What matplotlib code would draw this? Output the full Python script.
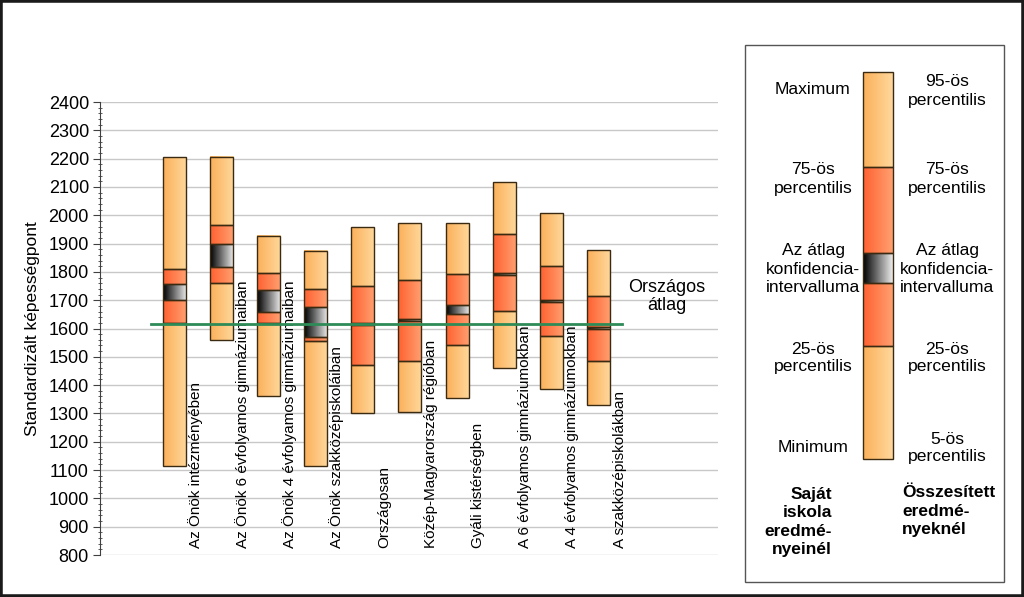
import numpy as np
import matplotlib
matplotlib.use("Agg")
import matplotlib.pyplot as plt
from matplotlib.colors import LinearSegmentedColormap
from matplotlib.patches import Rectangle
from matplotlib.ticker import MultipleLocator

plt.rcParams['font.family'] = ['Liberation Sans', 'DejaVu Sans']

categories = [
    "Az Önök intézményében",
    "Az Önök 6 évfolyamos gimnáziumaiban",
    "Az Önök 4 évfolyamos gimnáziumaiban",
    "Az Önök szakközépiskoláiban",
    "Országosan",
    "Közép-Magyarország régióban",
    "Gyáli kistérségben",
    "A 6 évfolyamos gimnáziumokban",
    "A 4 évfolyamos gimnáziumokban",
    "A szakközépiskolákban",
]
mins = [1115, 1558, 1360, 1115, 1300, 1305, 1353, 1459, 1385, 1330]
q25 = [1620, 1762, 1620, 1555, 1470, 1484, 1540, 1661, 1572, 1484]
ci_lo = [1700, 1816, 1659, 1571, 1612, 1628, 1650, 1789, 1694, 1599]
ci_hi = [1756, 1897, 1737, 1677, 1618, 1633, 1682, 1795, 1700, 1605]
q75 = [1810, 1964, 1795, 1738, 1749, 1770, 1791, 1933, 1822, 1715]
maxs = [2205, 2205, 1928, 1874, 1957, 1971, 1971, 2116, 2009, 1876]
national_avg = 1615

ORANGE = ("#fbb05a", "#ffd89c")
RED = ("#ff6131", "#ffa070")
BLACK = ("#000000", "#ececec")
EDGE = "#3b2a12"


def grad_rect(ax, x0, x1, y0, y1, colors, z=2):
    cmap = LinearSegmentedColormap.from_list("g", list(colors))
    ax.imshow(np.linspace(0, 1, 64).reshape(1, -1), cmap=cmap,
              extent=[x0, x1, y0, y1], aspect='auto', zorder=z,
              interpolation='bilinear')
    ax.add_patch(Rectangle((x0, min(y0, y1)), x1 - x0, abs(y1 - y0),
                           fill=False, ec=EDGE, lw=1, zorder=z + 0.5))


def draw_box(ax, x, w, lo, p25, c_lo, c_hi, p75, hi):
    x0, x1 = x - w / 2, x + w / 2
    grad_rect(ax, x0, x1, lo, p25, ORANGE)
    grad_rect(ax, x0, x1, p25, c_lo, RED)
    grad_rect(ax, x0, x1, c_lo, c_hi, BLACK)
    grad_rect(ax, x0, x1, c_hi, p75, RED)
    grad_rect(ax, x0, x1, p75, hi, ORANGE)


fig = plt.figure(figsize=(10.24, 5.97), dpi=100)
ax = fig.add_axes([100 / 1024, 42 / 597, 618 / 1024, 453 / 597])

xs = np.arange(len(categories))
for i, x in enumerate(xs):
    draw_box(ax, x, 0.49, mins[i], q25[i], ci_lo[i], ci_hi[i], q75[i], maxs[i])
    ax.text(x + 0.45, 826, categories[i], rotation=90, ha='center',
            va='bottom', fontsize=11, zorder=5)

ax.plot([xs[0] - 0.5, xs[-1] + 0.5], [national_avg, national_avg],
        color="#2e8b57", lw=2, zorder=6)
ax.text(10.45, 1712, "Országos\nátlag", ha='center', va='center',
        fontsize=13, linespacing=1.05)

ax.set_xlim(-1.58, 11.54)
ax.set_ylim(800, 2400)
ax.yaxis.set_major_locator(MultipleLocator(100))
ax.yaxis.set_minor_locator(MultipleLocator(20))
ax.grid(axis='y', color="#c8c8c8", lw=1, zorder=0)
ax.set_axisbelow(True)
ax.set_xticks([])
for s in ['top', 'right', 'bottom']:
    ax.spines[s].set_visible(False)
ax.spines['left'].set_color("#404040")
ax.tick_params(axis='y', which='major', length=5, labelsize=13, color="#404040", pad=3)
ax.tick_params(axis='y', which='minor', length=3, direction='inout', color="#404040")
ax.set_ylabel("Standardizált képességpont", fontsize=12.5, labelpad=6)

# legend panel in pixel coordinates
lg = fig.add_axes([0, 0, 1, 1], zorder=-1)
lg.set_xlim(0, 1024)
lg.set_ylim(597, 0)
lg.axis('off')
lg.add_patch(Rectangle((745, 45), 259, 537, fill=False, ec="#555555", lw=1))

leg_edges = [459, 346, 283, 253, 167, 72]
leg_cols = [ORANGE, RED, BLACK, RED, ORANGE]
for k in range(5):
    grad_rect(lg, 863, 893, leg_edges[k], leg_edges[k + 1], leg_cols[k])
lg.set_xlim(0, 1024)
lg.set_ylim(597, 0)

left_texts = [(90, "Maximum"), (179, "75-ös\npercentilis"),
              (269, "Az átlag\nkonfidencia-\nintervalluma"),
              (358, "25-ös\npercentilis"), (448, "Minimum")]
right_texts = [(91, "95-ös\npercentilis"), (179, "75-ös\npercentilis"),
               (269, "Az átlag\nkonfidencia-\nintervalluma"),
               (358, "25-ös\npercentilis"), (448, "5-ös\npercentilis")]
for y, t in left_texts:
    lg.text(813, y, t, ha='center', va='center', fontsize=12.6, linespacing=1.25)
for y, t in right_texts:
    lg.text(947, y, t, ha='center', va='center', fontsize=12.6, linespacing=1.25)
lg.text(832, 522, "Saját\niskola\neredmé-\nnyeinél", ha='right', va='center',
        fontsize=12.5, fontweight='bold', linespacing=1.3, multialignment='right')
lg.text(902, 511, "Összesített\neredmé-\nnyeknél", ha='left', va='center',
        fontsize=12.5, fontweight='bold', linespacing=1.3)

fig.add_artist(Rectangle((0, 0), 1, 1, transform=fig.transFigure,
                         fill=False, ec="#1a1a1a", lw=4))

fig.savefig("out.png", dpi=100)
